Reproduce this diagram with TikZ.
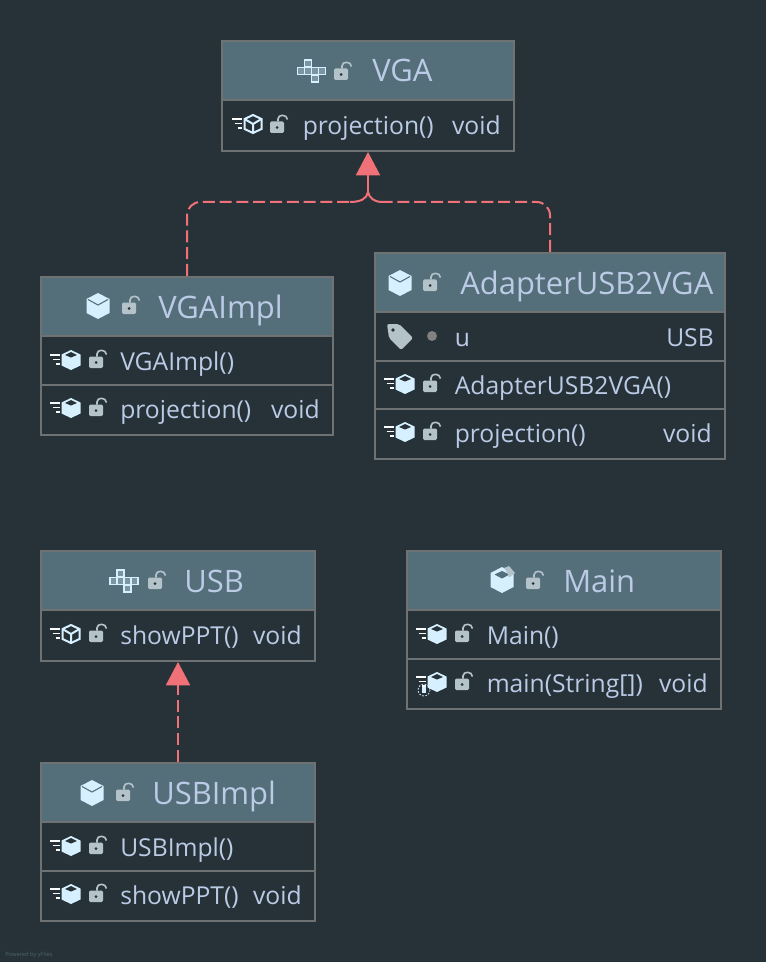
\documentclass[tikz,border=0pt]{standalone}
\usepackage{fontspec}
\setmainfont{Open Sans}
\usetikzlibrary{positioning, arrows.meta}
\definecolor{bgdark}{HTML}{263238}
\definecolor{headfill}{HTML}{546E7A}
\definecolor{edgegray}{HTML}{6E7272}
\definecolor{labelblue}{HTML}{BBCBE6}
\definecolor{iconlight}{HTML}{D6F0FF}
\definecolor{lockgray}{HTML}{B4C3C9}
\definecolor{deppink}{HTML}{F07178}
\tikzset{
    boxsize/.style 2 args={minimum width=#1*0.75pt, minimum height=#2*0.75pt},
    classbox/.style={draw=edgegray, line width=1.5pt, fill=bgdark, rectangle, inner sep=0pt},
    headbox/.style={draw=edgegray, line width=1.5pt, fill=headfill, rectangle, inner sep=0pt},
    titletext/.style={anchor=base west, text=labelblue, inner sep=0pt, font=\fontsize{23.2}{24}\selectfont},
    rowtext/.style={anchor=base west, text=labelblue, inner sep=0pt, font=\fontsize{18.5}{19}\selectfont},
    typetext/.style={anchor=base east, text=labelblue, inner sep=0pt, font=\fontsize{18.5}{19}\selectfont},
    rowline/.style={draw=edgegray, line width=1.5pt},
    depline/.style={draw=deppink, line width=1.5pt, dash pattern=on 9pt off 3.6pt},
    depcurve/.style={draw=deppink, line width=1.5pt},
    deptip/.style={draw=deppink, line width=1.5pt, -{Triangle[length=17.5pt, width=18pt, fill=deppink]}},
    lockicon/.pic={
        \fill[lockgray, rounded corners=1pt] (-8,-5.5) rectangle (6,6);
        \fill[bgdark] (-1,0.5) circle (1.5);
        \draw[lockgray, line width=1.2pt] (0,-5.5) -- (0,-8) .. controls (0,-13) and (9,-13) .. (9.5,-7.5);
    },
    methodicon/.pic={
        \draw[white!90!iconlight, line width=1.2pt] (-21,-5) -- (-11,-5) (-18.5,-0.5) -- (-11,-0.5) (-15,4) -- (-11,4);
    },
    cuberow/.pic={
        \fill[iconlight] (0,-10) -- (9.5,-5.5) -- (9.5,5.5) -- (0,10) -- (-9.5,5.5) -- (-9.5,-5.5) -- cycle;
        \fill[bgdark] (0,-8) -- (6,-5) -- (0,-2.5) -- (-6,-5) -- cycle;
    },
    cubeoutline/.pic={
        \draw[iconlight, line width=1.5pt, fill=bgdark] (0,-9) -- (8.5,-5) -- (8.5,5) -- (0,9) -- (-8.5,5) -- (-8.5,-5) -- cycle;
        \draw[iconlight, line width=1.5pt] (-8.5,-5) -- (0,0) -- (8.5,-5) (0,0) -- (0,9);
    },
    cubehead/.pic={
        \fill[iconlight] (0,-13) -- (11.5,-7) -- (11.5,7) -- (0,13) -- (-11.5,7) -- (-11.5,-7) -- cycle;
        \draw[headfill, line width=0.8pt] (-10,-6.5) -- (0,-1) -- (10,-6.5);
    },
    cubemain/.pic={
        \fill[iconlight] (0,-13) -- (11.5,-7) -- (11.5,7) -- (0,13) -- (-11.5,7) -- (-11.5,-7) -- cycle;
        \fill[headfill] (0,-9) -- (7.5,-5.5) -- (0,-1.5) -- (-7.5,-5.5) -- cycle;
        \fill[lockgray] (2,-12) -- (7,-14) -- (13,-7) -- (7,-2.5) -- (6,-6) -- cycle;
    },
    staticmark/.pic={
        \fill[iconlight] (-2,-3) rectangle (2,3);
        \draw[iconlight, line width=0.6pt, dash pattern=on 1.2pt off 1.2pt] (0,0) circle (6);
    },
    ifaceicon/.pic={
        \foreach \cx/\cy in {-3.5/-7.5, -10.5/0, -3.5/0, 3.5/0, 10.5/0, 3.5/7.5}
            \draw[iconlight, line width=1.3pt, fill=headfill!70!iconlight] (\cx-3.5,\cy-3.5) rectangle (\cx+3.5,\cy+3.5);
    },
    tagicon/.pic={
        \fill[lockgray, rounded corners=1.5pt] (-13,-13) -- (-1,-13) -- (13,1) -- (1,13) -- (-11,1) -- cycle;
        \fill[bgdark] (-7,-7) circle (1.8);
    },
    dotmark/.pic={\fill[gray] (0,0) circle (5);},
}
\begin{document}
\begin{tikzpicture}[x=0.75pt, y=-0.75pt]
    \useasboundingbox[fill=bgdark] (0,0) rectangle (766,962);

    % VGA
    \node[classbox, boxsize={292}{110}] (vga) at (368,96) {};
    \node[headbox, boxsize={292}{59}] (vgahead) at (368,70.5) {};
    \pic at (311.5,71) {ifaceicon};
    \pic at (342,74) {lockicon};
    \node[titletext] (vgatitle) at (372,82) {VGA};
    \pic at (253,124) {methodicon};
    \pic at (253,124) {cubeoutline};
    \pic at (278,127) {lockicon};
    \node[rowtext] (vgaproj) at (302.5,134.5) {projection()};
    \node[typetext] (vgaprojtype) at (501,134.5) {void};

    % VGAImpl
    \node[classbox, boxsize={292}{158}] (vgaimpl) at (187,356) {};
    \node[headbox, boxsize={292}{59}] (vgaimplhead) at (187,306.5) {};
    \pic at (98,306) {cubehead};
    \pic at (130,308) {lockicon};
    \node[titletext] (vgaimpltitle) at (158,318) {VGAImpl};
    \draw[rowline] (41,385) -- (333,385);
    \pic at (71,360) {methodicon};
    \pic at (71,360) {cuberow};
    \pic at (97,362) {lockicon};
    \node[rowtext] (vgaimplctor) at (120,370) {VGAImpl()};
    \pic at (71,408) {methodicon};
    \pic at (71,408) {cuberow};
    \pic at (97,410) {lockicon};
    \node[rowtext] (vgaimplproj) at (120,418.5) {projection()};
    \node[typetext] (vgaimplprojtype) at (320,418.5) {void};

    % AdapterUSB2VGA
    \node[classbox, boxsize={350}{206}] (adapter) at (550,356) {};
    \node[headbox, boxsize={350}{59}] (adapterhead) at (550,282.5) {};
    \pic at (400,283) {cubehead};
    \pic at (431,285) {lockicon};
    \node[titletext] (adaptertitle) at (460,294) {AdapterUSB2VGA};
    \draw[rowline] (375,361) -- (725,361);
    \draw[rowline] (375,409) -- (725,409);
    \pic at (400,337) {tagicon};
    \pic at (432,336) {dotmark};
    \node[rowtext] (adapteru) at (454.5,346) {u};
    \node[typetext] (adaptertype) at (714,346) {USB};
    \pic at (405,384) {methodicon};
    \pic at (405,384) {cuberow};
    \pic at (431,386) {lockicon};
    \node[rowtext] (adapterctor) at (454.5,394) {AdapterUSB2VGA()};
    \pic at (405,432) {methodicon};
    \pic at (405,432) {cuberow};
    \pic at (431,434) {lockicon};
    \node[rowtext] (adapterproj) at (454.5,442) {projection()};
    \node[typetext] (adapterprojtype) at (712,442) {void};

    % USB
    \node[classbox, boxsize={274}{110}] (usb) at (178,606) {};
    \node[headbox, boxsize={274}{59}] (usbhead) at (178,580.5) {};
    \pic at (124,581) {ifaceicon};
    \pic at (156,583) {lockicon};
    \node[titletext] (usbtitle) at (184,592) {USB};
    \pic at (71,634) {methodicon};
    \pic at (71,634) {cubeoutline};
    \pic at (97,636) {lockicon};
    \node[rowtext] (usbshow) at (120,644.5) {showPPT()};
    \node[typetext] (usbshowtype) at (302,644.5) {void};

    % Main
    \node[classbox, boxsize={314}{158}] (main) at (564,630) {};
    \node[headbox, boxsize={314}{59}] (mainhead) at (564,580.5) {};
    \pic at (502,580) {cubemain};
    \pic at (534,583) {lockicon};
    \node[titletext] (maintitle) at (563,592) {Main};
    \draw[rowline] (407,659) -- (721,659);
    \pic at (437,634) {methodicon};
    \pic at (437,634) {cuberow};
    \pic at (463,636) {lockicon};
    \node[rowtext] (mainctor) at (486.5,644.5) {Main()};
    \pic at (437,682) {methodicon};
    \pic at (437,682) {cuberow};
    \pic at (424,690) {staticmark};
    \pic at (463,684) {lockicon};
    \node[rowtext] (mainmain) at (486.5,692.5) {main(String[])};
    \node[typetext] (mainmaintype) at (708,692.5) {void};

    % USBImpl
    \node[classbox, boxsize={274}{158}] (usbimpl) at (178,842) {};
    \node[headbox, boxsize={274}{59}] (usbimplhead) at (178,792.5) {};
    \pic at (92,793) {cubehead};
    \pic at (124,795) {lockicon};
    \node[titletext] (usbimpltitle) at (152,804) {USBImpl};
    \draw[rowline] (41,871) -- (315,871);
    \pic at (71,846) {methodicon};
    \pic at (71,846) {cuberow};
    \pic at (97,848) {lockicon};
    \node[rowtext] (usbimplctor) at (120,856.5) {USBImpl()};
    \pic at (71,894) {methodicon};
    \pic at (71,894) {cuberow};
    \pic at (97,896) {lockicon};
    \node[rowtext] (usbimplshow) at (120,904.5) {showPPT()};
    \node[typetext] (usbimplshowtype) at (302,904.5) {void};

    % connectors
    \coordinate (vgamerge) at (368,192);
    \coordinate (busleft) at (350,202);
    \coordinate (busright) at (381,202);
    \draw[depline, rounded corners=10pt] (vgaimpl.north) |- (busleft);
    \draw[depline, rounded corners=10pt] (adapter.north) |- (busright);
    \draw[depcurve] (busleft) .. controls (360,202) and (367,199) .. (vgamerge);
    \draw[depcurve] (busright) .. controls (375,202) and (369,198) .. (vgamerge);
    \draw[deptip] (vgamerge) -- (vga.south);
    \draw[deptip, dash pattern=on 9pt off 3.6pt] (usbimpl.north) -- (usb.south);

    \node[anchor=base west, inner sep=0pt, text=headfill!85!bgdark, font=\fontsize{4.3}{5}\selectfont] (poweredby) at (5,956) {Powered by yFiles};
\end{tikzpicture}
\end{document}
